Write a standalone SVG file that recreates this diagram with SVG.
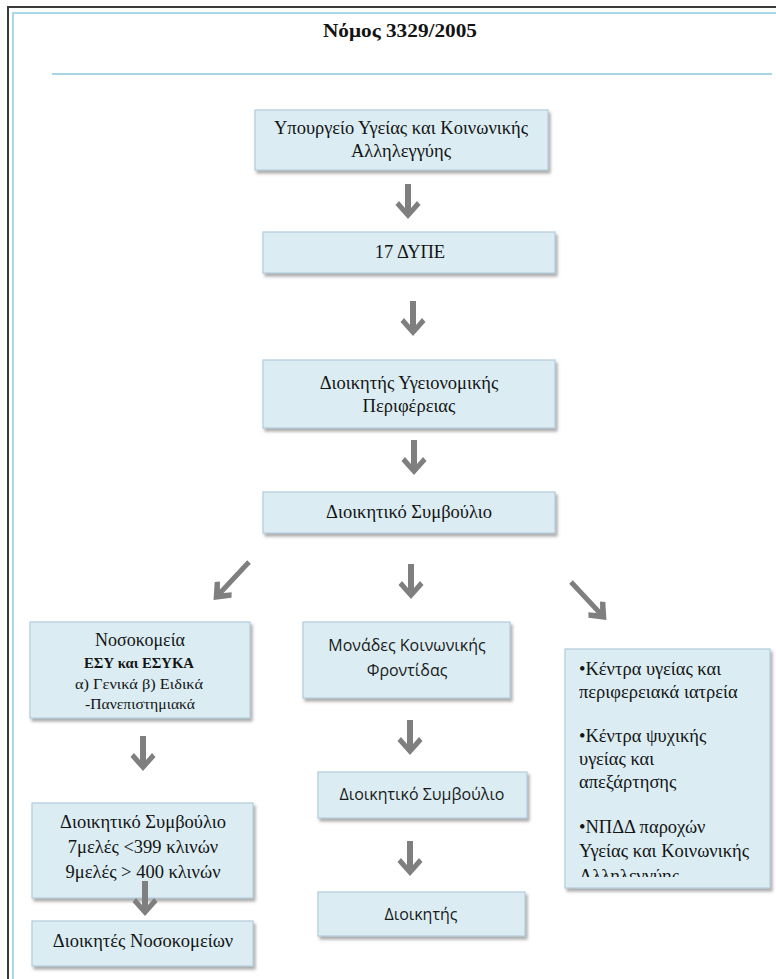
<svg xmlns="http://www.w3.org/2000/svg" width="776" height="979" viewBox="0 0 776 979">
<defs>
<filter id="sh" x="-10%" y="-10%" width="130%" height="140%">
<feDropShadow dx="2" dy="3" stdDeviation="1.5" flood-color="#666" flood-opacity="0.55"/>
</filter>
<path id="down" d="M-3,0 H3 V24 L9,17 L12.5,21 L0,35 L-12.5,21 L-9,17 L-3,24 Z"/>
<path id="diag" d="M-2.5,0 H2.5 V40 L8,34 L11.5,38 L0,52 L-11.5,38 L-8,34 L-2.5,40 Z"/>
<clipPath id="clipR"><rect x="565" y="649" width="206" height="228"/></clipPath>
</defs>
<style>
.box{fill:#dbedf3;stroke:#b3cbdc;stroke-width:1.2;filter:url(#sh)}
.s{font-family:"Liberation Serif","DejaVu Serif","Times New Roman",serif;fill:#141414}
.c{font-family:"Open Sans","Noto Sans","Liberation Sans",sans-serif;fill:#1a1a1a}
.m{text-anchor:middle}
.arr{fill:#7f7f7f}
</style>
<rect width="776" height="979" fill="#ffffff"/>
<g id="frame">
<line x1="8" y1="7" x2="8" y2="979" stroke="#3a3a3a" stroke-width="2"/>
<line x1="7" y1="7" x2="776" y2="7" stroke="#3a3a3a" stroke-width="2"/>
<line x1="13" y1="13" x2="13" y2="979" stroke="#a8d8e6" stroke-width="2"/>
<line x1="12" y1="13" x2="776" y2="13" stroke="#a8d8e6" stroke-width="2"/>
<line x1="52" y1="74" x2="772" y2="74" stroke="#a8d5e4" stroke-width="2"/>
</g>
<text id="title" class="s m" x="400" y="37" font-size="18" font-weight="bold" textLength="154" lengthAdjust="spacingAndGlyphs">Νόμος 3329/2005</text>
<g id="n_ministry">
<rect class="box" x="255" y="110" width="293" height="60"/>
<text class="s m" x="401" y="134" font-size="18.5">Υπουργείο Υγείας και Κοινωνικής</text>
<text class="s m" x="401" y="157" font-size="18.5">Αλληλεγγύης</text>
</g>
<g id="n_dype">
<rect class="box" x="263" y="232" width="292" height="41"/>
<text class="s m" x="410" y="258" font-size="18.5">17 ΔΥΠΕ</text>
</g>
<g id="n_dioikitis_yp">
<rect class="box" x="263" y="360" width="292" height="68"/>
<text class="s m" x="409" y="389" font-size="18.5">Διοικητής Υγειονομικής</text>
<text class="s m" x="409" y="412" font-size="18.5">Περιφέρειας</text>
</g>
<g id="n_ds_top">
<rect class="box" x="263" y="492" width="292" height="41"/>
<text class="s m" x="409" y="518" font-size="18.5">Διοικητικό Συμβούλιο</text>
</g>
<g id="n_nosokomeia">
<rect class="box" x="30" y="622" width="220" height="96"/>
<text class="s m" x="140" y="646" font-size="18">Νοσοκομεία</text>
<text class="s m" x="139" y="668" font-size="14" font-weight="bold" textLength="110" lengthAdjust="spacingAndGlyphs">ΕΣΥ και ΕΣΥΚΑ</text>
<text class="s m" x="139" y="689" font-size="15" textLength="128" lengthAdjust="spacingAndGlyphs">α) Γενικά  β) Ειδικά</text>
<text class="s m" x="140" y="709" font-size="15" textLength="110" lengthAdjust="spacingAndGlyphs">-Πανεπιστημιακά</text>
</g>
<g id="n_monades">
<rect class="box" x="303" y="622" width="207" height="76"/>
<text class="c m" x="407" y="651" font-size="16">Μονάδες Κοινωνικής</text>
<text class="c m" x="407" y="676" font-size="16">Φροντίδας</text>
</g>
<g id="n_kentra">
<rect class="box" x="565" y="649" width="205" height="239"/>
<g clip-path="url(#clipR)" class="s" font-size="18.5">
<text x="579" y="675">•Κέντρα υγείας και</text>
<text x="579" y="698">περιφερειακά ιατρεία</text>
<text x="579" y="742">•Κέντρα ψυχικής</text>
<text x="579" y="765">υγείας και</text>
<text x="579" y="788">απεξάρτησης</text>
<text x="579" y="833">•ΝΠΔΔ  παροχών</text>
<text x="579" y="857">Υγείας και Κοινωνικής</text>
<text x="579" y="882">Αλληλεγγύης</text>
</g>
</g>
<g id="n_ds_nosok">
<rect class="box" x="32" y="803" width="221" height="95"/>
<text class="s m" x="143" y="828" font-size="18.5">Διοικητικό Συμβούλιο</text>
<text class="s m" x="143" y="853" font-size="18.5">7μελές &lt;399 κλινών</text>
<text class="s m" x="143" y="878" font-size="18.5">9μελές &gt; 400 κλινών</text>
</g>
<g id="n_dioikites_nosok">
<rect class="box" x="32" y="921" width="221" height="45"/>
<text class="s m" x="143" y="947" font-size="18.5">Διοικητές Νοσοκομείων</text>
</g>
<g id="n_ds_monades">
<rect class="box" x="318" y="772" width="209" height="46"/>
<text class="c m" x="422" y="800" font-size="16">Διοικητικό Συμβούλιο</text>
</g>
<g id="n_dioikitis_monades">
<rect class="box" x="318" y="892" width="207" height="44"/>
<text class="c m" x="421" y="920" font-size="16">Διοικητής</text>
</g>
<g id="connectors" class="arr">
<use href="#down" transform="translate(408,184)"/>
<use href="#down" transform="translate(413,301)"/>
<use href="#down" transform="translate(414,440)"/>
<use href="#diag" transform="translate(249,562) rotate(43)"/>
<use href="#down" transform="translate(411,564)"/>
<use href="#diag" transform="translate(571,582) rotate(-43)"/>
<use href="#down" transform="translate(143,736)"/>
<use href="#down" transform="translate(410,720)"/>
<use href="#down" transform="translate(145,881)"/>
<use href="#down" transform="translate(410,841)"/>
</g>
</svg>
